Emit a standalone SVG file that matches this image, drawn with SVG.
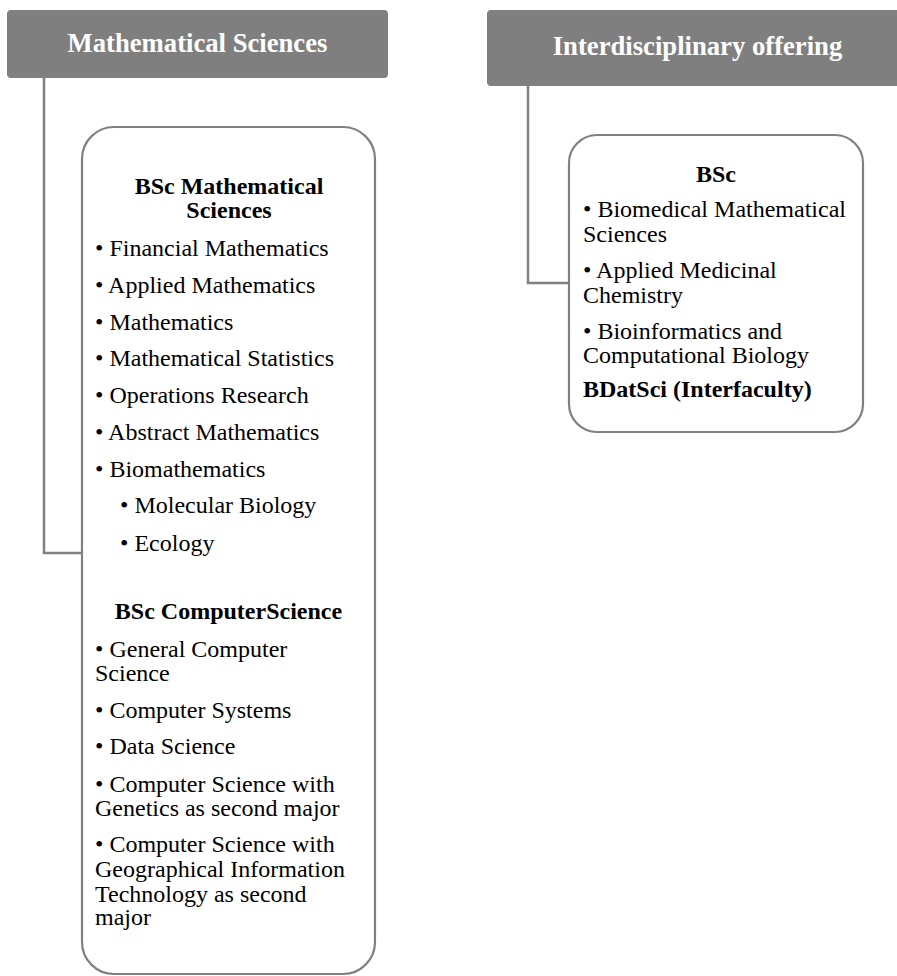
<svg xmlns="http://www.w3.org/2000/svg" width="897" height="976" viewBox="0 0 897 976">
<style>
.hdr{fill:#7f7f7f}
.hdrt{font-family:"Liberation Serif","Times New Roman",serif;font-size:26.67px;font-weight:bold;fill:#ffffff;text-anchor:middle}
.box{fill:#ffffff;stroke:#808080;stroke-width:2.2}
.t{font-family:"Liberation Serif","Times New Roman",serif;font-size:24px;fill:#000000}
.b{font-weight:bold}
.c{text-anchor:middle}
.conn{fill:none;stroke:#808080;stroke-width:2.5}
</style>
<rect width="897" height="976" fill="#ffffff"/>
<g id="connectors">
<path class="conn" d="M44 78 V553 H82"/>
<path class="conn" d="M528 86 V283 H569"/>
</g>
<g id="header-math">
<rect class="hdr" x="7" y="10" width="381" height="68" rx="4"/>
<text class="hdrt" x="197.5" y="52">Mathematical Sciences</text>
</g>
<g id="header-inter">
<rect class="hdr" x="487" y="10" width="425" height="76" rx="4"/>
<text class="hdrt" x="697.5" y="55">Interdisciplinary offering</text>
</g>
<g id="box-math">
<rect class="box" x="82" y="127" width="293" height="847" rx="32"/>
<text class="t b c" x="229" y="194">BSc Mathematical</text>
<text class="t b c" x="229" y="218">Sciences</text>
<text class="t" x="95" y="256">• Financial Mathematics</text>
<text class="t" x="95" y="293">• Applied Mathematics</text>
<text class="t" x="95" y="329.5">• Mathematics</text>
<text class="t" x="95" y="366">• Mathematical Statistics</text>
<text class="t" x="95" y="403">• Operations Research</text>
<text class="t" x="95" y="440">• Abstract Mathematics</text>
<text class="t" x="95" y="476.5">• Biomathematics</text>
<text class="t" x="120" y="513">• Molecular Biology</text>
<text class="t" x="120" y="550.5">• Ecology</text>
<text class="t b c" x="228.5" y="619">BSc ComputerScience</text>
<text class="t" x="95" y="656.5">• General Computer</text>
<text class="t" x="95" y="681">Science</text>
<text class="t" x="95" y="717.5">• Computer Systems</text>
<text class="t" x="95" y="754">• Data Science</text>
<text class="t" x="95" y="791.5">• Computer Science with</text>
<text class="t" x="95" y="816">Genetics as second major</text>
<text class="t" x="95" y="852">• Computer Science with</text>
<text class="t" x="95" y="877">Geographical Information</text>
<text class="t" x="95" y="901.5">Technology as second</text>
<text class="t" x="95" y="925">major</text>
</g>
<g id="box-inter">
<rect class="box" x="569" y="135" width="294" height="297" rx="28"/>
<text class="t b c" x="716" y="182">BSc</text>
<text class="t" x="583" y="217">• Biomedical Mathematical</text>
<text class="t" x="583" y="242">Sciences</text>
<text class="t" x="583" y="278">• Applied Medicinal</text>
<text class="t" x="583" y="303">Chemistry</text>
<text class="t" x="583" y="339">• Bioinformatics and</text>
<text class="t" x="583" y="363">Computational Biology</text>
<text class="t b" x="583" y="397">BDatSci (Interfaculty)</text>
</g>
</svg>
